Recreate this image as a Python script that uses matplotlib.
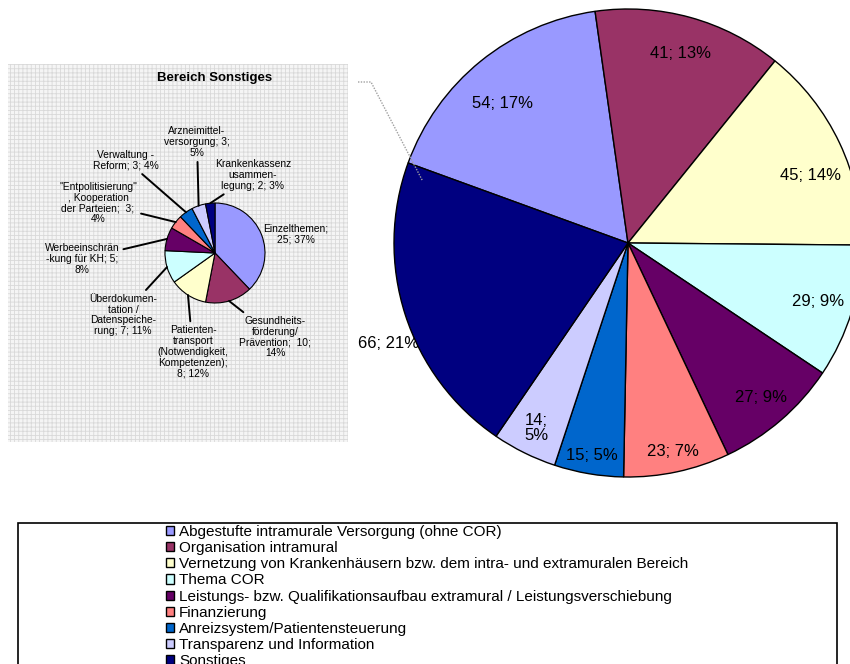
import numpy as np
import matplotlib
matplotlib.use('Agg')
import matplotlib.pyplot as plt
from matplotlib.patches import Rectangle
from matplotlib.lines import Line2D

plt.rcParams['font.family'] = ['Liberation Sans', 'DejaVu Sans']
plt.rcParams['hatch.linewidth'] = 0.6

# --- data: main pie ---
main_labels = [
    'Abgestufte intramurale Versorgung (ohne COR)',
    'Organisation intramural',
    'Vernetzung von Krankenhäusern bzw. dem intra- und extramuralen Bereich',
    'Thema COR',
    'Leistungs- bzw. Qualifikationsaufbau extramural / Leistungsverschiebung',
    'Finanzierung',
    'Anreizsystem/Patientensteuerung',
    'Transparenz und Information',
    'Sonstiges',
]
main_values = [54, 41, 45, 29, 27, 23, 15, 14, 66]
main_texts = ['54; 17%', '41; 13%', '45; 14%', '29; 9%', '27; 9%',
              '23; 7%', '15; 5%', '14;\n5%', '66; 21%']

# --- data: inset pie "Bereich Sonstiges" ---
sub_values = [25, 10, 8, 7, 5, 3, 3, 3, 2]
sub_texts = [
    'Einzelthemen;\n25; 37%',
    'Gesundheits-\nförderung/\nPrävention;  10;\n14%',
    'Patienten-\ntransport\n(Notwendigkeit,\nKompetenzen);\n8; 12%',
    'Überdokumen-\ntation /\nDatenspeiche-\nrung; 7; 11%',
    'Werbeeinschrän\n-kung für KH; 5;\n8%',
    '"Entpolitisierung"\n, Kooperation\nder Parteien;  3;\n4%',
    'Verwaltung -\nReform; 3; 4%',
    'Arzneimittel-\nversorgung; 3;\n5%',
    'Krankenkassenz\nusammen-\nlegung; 2; 3%',
]

colors = ['#9999FF', '#993366', '#FFFFCC', '#CCFFFF', '#660066',
          '#FF8080', '#0066CC', '#CCCCFF', '#000080']

W, H = 850, 664
fig = plt.figure(figsize=(W / 100, H / 100), dpi=100)


def px_axes(x0, y0, x1, y1):
    # axes from pixel box (top-left origin)
    return fig.add_axes([x0 / W, 1 - y1 / H, (x1 - x0) / W, (y1 - y0) / H])


# --- main pie ---
cx, cy, r = 628, 243, 234
ax = px_axes(cx - 1.2 * r, cy - 1.2 * r, cx + 1.2 * r, cy + 1.2 * r)
wedges, _ = ax.pie(main_values, colors=colors, startangle=160,
                   counterclock=False, radius=1,
                   wedgeprops=dict(edgecolor='black', linewidth=1.0))
ax.set_xlim(-1.2, 1.2)
ax.set_ylim(-1.2, 1.2)
ax.set_aspect('auto')
ax.axis('off')

label_dist = [0.80, 0.84, 0.83, 0.85, 0.87, 0.91, 0.92, 0.88, 1.11]
label_shift = [3, 0, -5, 0, 0, 0, 0, 0, 5]   # degrees off the slice middle
for i, (w, txt, d, s) in enumerate(zip(wedges, main_texts, label_dist,
                                       label_shift)):
    mid = np.deg2rad((w.theta1 + w.theta2) / 2 + s)
    # the outside label of the last slice sits behind the pie edge
    z = 0.5 if i == len(wedges) - 1 else 3
    ax.text(d * np.cos(mid), d * np.sin(mid), txt, ha='center', va='center',
            fontsize=12, zorder=z, linespacing=1.0)

# --- inset pie ---
bx0, by0, bx1, by1 = 8, 64, 348, 442
scx, scy, sr = 215, 253, 50
iax = px_axes(bx0, by0, bx1, by1)
iax.add_patch(Rectangle((0, 0), 1, 1, transform=iax.transAxes,
                        facecolor='#f5f5f5', edgecolor='#d9d9d9',
                        hatch='++++', linewidth=0, zorder=0))
swedges, _ = iax.pie(sub_values, colors=colors, startangle=90,
                     counterclock=False, radius=1,
                     wedgeprops=dict(edgecolor='black', linewidth=0.8))
iax.set_xlim((bx0 - scx) / sr, (bx1 - scx) / sr)
iax.set_ylim((scy - by1) / sr, (scy - by0) / sr)
iax.set_aspect('auto')
iax.axis('off')

iax.text(0, 3.5, 'Bereich Sonstiges', ha='center', va='center',
         fontsize=9.5, fontweight='bold')

sub_pos = [(1.62, 0.38), (1.2, -1.68), (-0.44, -1.98), (-1.84, -1.24),
           (-2.66, -0.12), (-2.34, 1.0), (-1.78, 1.86), (-0.36, 2.22),
           (0.76, 1.56)]
leader = [False, True, True, True, True, True, True, True, True]
for w, txt, pos, lead in zip(swedges, sub_texts, sub_pos, leader):
    mid = np.deg2rad((w.theta1 + w.theta2) / 2)
    xy = (np.cos(mid), np.sin(mid))
    if lead:
        iax.annotate(txt, xy=xy, xytext=pos, ha='center', va='center',
                     fontsize=7.4, linespacing=1.1,
                     arrowprops=dict(arrowstyle='-', color='black', lw=1.4,
                                     shrinkA=1, shrinkB=0))
    else:
        iax.text(pos[0], pos[1], txt, ha='center', va='center',
                 fontsize=7.4, linespacing=1.1)

# dotted connector from inset to the "Sonstiges" slice
sw = wedges[-1]
ang = np.deg2rad(sw.theta1 + 3)
ex, ey = cx + 0.92 * r * np.cos(ang), cy - 0.92 * r * np.sin(ang)
fig.add_artist(Line2D([358 / W, 371 / W, ex / W],
                      [1 - 82 / H, 1 - 82 / H, 1 - ey / H],
                      color='#a0a0a0', lw=1.0, ls=(0, (1, 1))))

# --- legend box ---
fig.add_artist(Rectangle((18 / W, 1 - 700 / H), (837 - 18) / W, (700 - 523) / H,
                         transform=fig.transFigure, facecolor='white',
                         edgecolor='black', linewidth=1.2, zorder=2))
leg = fig.legend(wedges, main_labels, loc='upper left',
                 bbox_to_anchor=(166 / W, 1 - 525 / H), frameon=False,
                 fontsize=11, handlelength=0.55, handleheight=0.55,
                 handletextpad=0.3, labelspacing=0.14, borderpad=0,
                 borderaxespad=0)
leg.set_zorder(3)

fig.savefig('out.png', dpi=100)
